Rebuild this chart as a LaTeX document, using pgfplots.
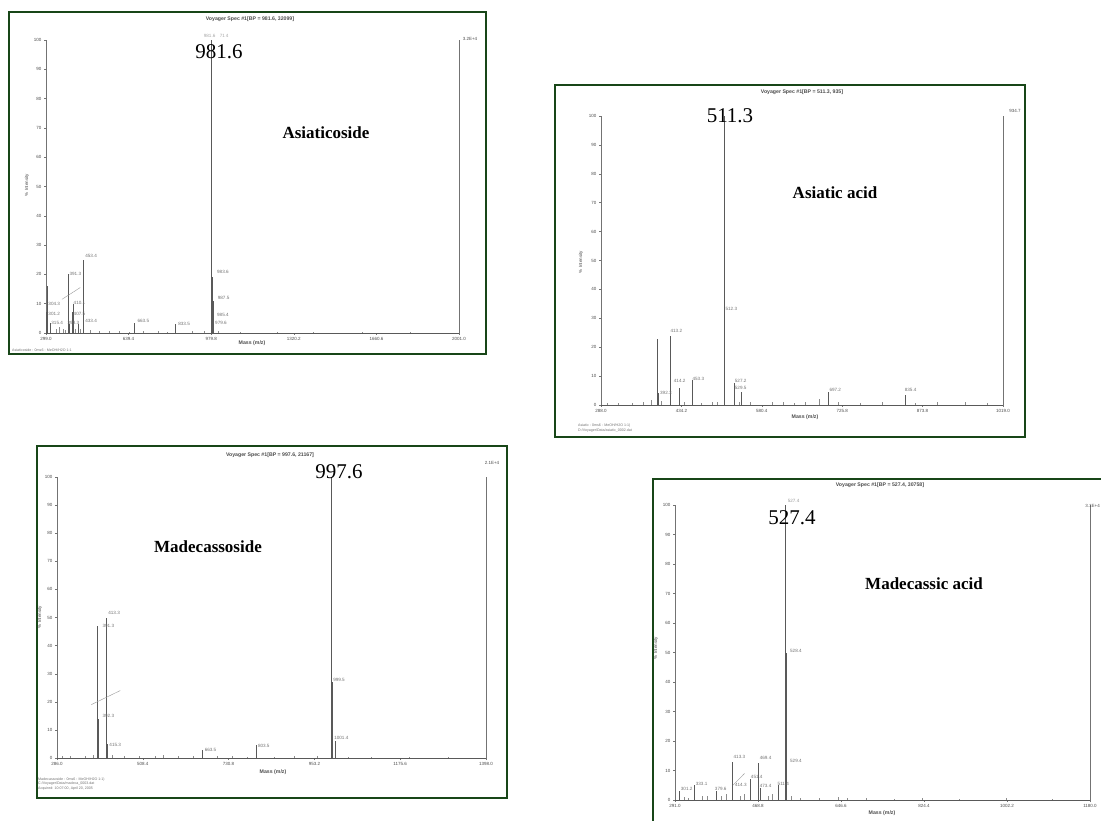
\documentclass[border=0pt]{standalone}
\usepackage{pgfplots}
\pgfplotsset{compat=1.18}
\usepackage{fontspec}
\setmainfont{Liberation Serif}
\newfontfamily\sans{Liberation Sans}
\definecolor{bx}{RGB}{24,70,24}
\newcommand\tickfont{\sans\fontsize{4.5}{5}\selectfont}
\newcommand\lblfont{\sans\fontsize{4.6}{5}\selectfont}
\newcommand\ttlfont{\sans\bfseries\fontsize{5.2}{6}\selectfont}
\newcommand\bigfont{\fontsize{21}{24}\selectfont}
\newcommand\namefont{\bfseries\fontsize{17}{20}\selectfont}
\tikzset{lbl/.style={font=\lblfont, text=black!55, inner sep=0pt},
         info/.style={font=\sans\fontsize{3.6}{4.2}\selectfont, text=black!55, inner sep=0pt, anchor=west, align=left}}
\pgfplotsset{spec/.style={
  scale only axis, anchor=south west, ymin=0, ymax=100,
  axis x line*=bottom, axis y line*=left,
  axis line style={black!55, line width=0.5pt},
  x axis line style={black!65, line width=0.8pt},
  tick style={black!55, line width=0.4pt}, major tick length=2pt, tick align=outside,
  ytick={0,10,...,100},
  ticklabel style={font=\tickfont, text=black!70},
  /pgf/number format/assume math mode=true,
  clip=false,
  xticklabel style={yshift=1pt}, yticklabel style={xshift=1pt}},
  peaks/.style={ycomb, no marks, draw=black!65, line width=0.55pt},
  noise/.style={ycomb, no marks, draw=black!45, line width=0.35pt}}
\newcommand\pl[3]{\node[lbl] at (axis cs:#1,#2) {#3};}
\begin{document}
\begin{tikzpicture}[x=1pt,y=1pt]
\useasboundingbox (0,0) rectangle (1101,820);
\clip (0,0) rectangle (1101,820);
\fill[white] (0,0) rectangle (1101,820);

% ---------------- Panel 1: Asiaticoside ----------------
\draw[bx, line width=1.8pt] (9,466) rectangle (486,808);
\begin{axis}[spec, at={(46pt,487pt)}, width=413pt, height=293pt,
  xmin=299, xmax=2001,
  xtick={299,639.4,979.8,1320.2,1660.6,2001},
  xticklabels={299.0,639.4,979.8,1320.2,1660.6,2001.0}]
\addplot[noise] coordinates {(318,1.5)(340,1.2)(352,2)(368,1.5)(378,1)(420,1.5)(440,1.5)(480,1)(520,0.8)(560,0.6)(600,0.7)(640,0.5)(700,0.8)(760,0.6)(800,0.5)(900,0.6)(950,0.8)(1010,0.6)(1100,0.4)(1250,0.4)(1400,0.4)(1600,0.3)(1800,0.3)};
\addplot[peaks] coordinates {(301.2,7)(305,16)(316,3.5)(391.3,20)(393.3,3)(407.5,7)(410.1,10)(433.4,3)(453.4,25)(663.5,3.5)(833.5,3)(979.6,3)(981.6,100)(983.6,19)(985.4,6)(987.5,11)};
\draw[black!55, line width=0.4pt] (axis cs:2001,0) -- (axis cs:2001,100);
\draw[black!40, line width=0.4pt] (axis cs:365,11.5) -- (axis cs:440,15.5);
\pl{333}{10}{304.3}
\pl{333}{6.6}{301.2}
\pl{345}{3.5}{315.4}
\pl{420}{20.3}{391.3}
\pl{485}{26.2}{453.4}
\pl{437}{10.2}{410.1}
\pl{437}{6.6}{407.5}
\pl{412}{3.4}{393.3}
\pl{485}{4}{433.4}
\pl{700}{4.1}{663.5}
\pl{868}{3.2}{833.5}
\pl{1028}{21}{983.6}
\pl{1031}{12}{987.5}
\pl{1028}{6.3}{985.4}
\pl{1020}{3.4}{979.6}
\node[lbl, text=black!35] at (axis cs:1000,101.5) {981.6\quad 71\,4};
\end{axis}
\node[font=\ttlfont, text=black!70] at (250,801) {Voyager Spec \#1[BP = 981.6, 32099]};
\node[font=\tickfont, text=black!70, rotate=90] at (27,635) {\% Intensity};
\node[font=\ttlfont, text=black!70] at (252,477) {Mass (m/z)};
\node[font=\tickfont, text=black!70] at (470,781) {3.2E+4};
\node[info] at (12,470) {Asiaticoside : 0ms6 : MeOH/H2O 1:1};
\node[font=\bigfont] at (219,768) {981.6};
\node[font=\namefont] at (326,687) {Asiaticoside};

% ---------------- Panel 2: Asiatic acid ----------------
\draw[bx, line width=1.8pt] (555,383) rectangle (1025,735);
\begin{axis}[spec, at={(601pt,415pt)}, width=402pt, height=289pt,
  xmin=288, xmax=1019,
  xtick={288,434.2,580.4,726.6,872.8,1019},
  xticklabels={288.0,434.2,580.4,725.8,873.8,1019.0}]
\addplot[noise] coordinates {(300,0.8)(320,0.6)(345,0.8)(365,1.2)(380,1.8)(398,1.5)(440,1.2)(470,0.8)(490,1)(500,1.2)(540,1)(560,1)(600,1.2)(620,1)(640,0.8)(660,1)(684,2)(720,1.2)(760,0.8)(800,1)(860,0.8)(900,1)(950,1)(990,0.8)};
\addplot[peaks] coordinates {(390.5,23)(392.3,4)(413.2,24)(430,6)(454,8.5)(511.3,100)(513,31)(529.5,7.5)(543,4.6)(701,4.6)(841.6,3.5)};
\draw[black!55, line width=0.4pt] (axis cs:1019,0) -- (axis cs:1019,100);
\pl{425}{25.6}{413.2}
\pl{406}{4.3}{392.3}
\pl{431}{8.3}{414.2}
\pl{465}{8.9}{453.3}
\pl{525}{33.2}{512.3}
\pl{542}{8.4}{527.2}
\pl{542}{5.8}{529.5}
\pl{714}{5.2}{697.2}
\pl{851}{5.2}{835.4}
\end{axis}
\node[font=\ttlfont, text=black!70] at (802,728) {Voyager Spec \#1[BP = 511.3, 935]};
\node[font=\tickfont, text=black!70, rotate=90] at (581,558) {\% Intensity};
\node[font=\ttlfont, text=black!70] at (805,403) {Mass (m/z)};
\node[font=\tickfont, text=black!70] at (1015,709) {934.7};
\node[info] at (578,392) {Asiatic : 0ms6 : MeOH/H2O 1:1)\\D:/Voyager/Data/asiatic\_0002.dat};
\node[font=\bigfont] at (730,704) {511.3};
\node[font=\namefont] at (835,627) {Asiatic acid};

% ---------------- Panel 3: Madecassoside ----------------
\draw[bx, line width=1.8pt] (37,22) rectangle (507,374);
\begin{axis}[spec, at={(57pt,62pt)}, width=429pt, height=281pt,
  xmin=286, xmax=1398,
  xtick={286,508.4,730.8,953.2,1175.6,1398},
  xticklabels={286.0,508.4,730.8,953.2,1175.6,1398.0}]
\addplot[noise] coordinates {(300,0.8)(320,0.6)(360,0.8)(380,1)(430,1.2)(460,0.8)(500,0.8)(540,0.8)(560,1)(600,0.6)(640,0.8)(700,0.6)(740,0.6)(780,0.5)(850,0.5)(900,0.6)(960,0.6)(1040,0.5)(1100,0.5)(1200,0.5)(1300,0.5)};
\addplot[peaks] coordinates {(391.3,47)(392.3,14)(413.3,50)(415.3,5)(663.5,3)(803.5,4.5)(997.6,100)(999.5,27)(1008,6)};
\draw[black!55, line width=0.4pt] (axis cs:1398,0) -- (axis cs:1398,100);
\draw[black!40, line width=0.4pt] (axis cs:375,19) -- (axis cs:450,24);
\pl{434}{51.5}{413.3}
\pl{419}{47.1}{391.3}
\pl{419}{14.8}{392.3}
\pl{437}{4.7}{415.3}
\pl{684}{3}{663.5}
\pl{822}{4.4}{803.5}
\pl{1017}{27.8}{999.5}
\pl{1023}{7.1}{1001.4}
\end{axis}
\node[font=\ttlfont, text=black!70] at (270,365) {Voyager Spec \#1[BP = 997.6, 21167]};
\node[font=\tickfont, text=black!70, rotate=90] at (40,203) {\% Intensity};
\node[font=\ttlfont, text=black!70] at (273,48) {Mass (m/z)};
\node[font=\tickfont, text=black!70] at (492,357) {2.1E+4};
\node[info] at (38,36) {Madecassoside : 0ms6 : MeOH/H2O 1:1)\\C:/Voyager/Data/madeca\_0003.dat\\Acquired: 10:07:00, April 20, 2005};
\node[font=\bigfont] at (339,348) {997.6};
\node[font=\namefont] at (208,273) {Madecassoside};

% ---------------- Panel 4: Madecassic acid ----------------
\draw[bx, line width=1.8pt] (653,-10) rectangle (1115,341);
\begin{axis}[spec, at={(675pt,20pt)}, width=415pt, height=295pt,
  xmin=291, xmax=1180,
  xtick={291,468.8,646.6,824.4,1002.2,1180},
  xticklabels={291.0,468.8,646.6,824.4,1002.2,1180.0}]
\addplot[noise] coordinates {(310,1)(320,0.8)(350,1.2)(360,1.5)(390,1.5)(400,2)(430,1.5)(440,2)(490,1.5)(500,2)(540,1.5)(560,0.8)(600,0.6)(640,1)(660,0.8)(700,0.6)(760,0.5)(820,0.6)(900,0.5)(1000,0.6)(1100,0.5)};
\addplot[peaks] coordinates {(301.2,3)(333.1,5)(379.6,3)(413.3,13)(414.3,4)(451.4,7)(469.4,12.7)(473.4,4)(511.4,5)(527.4,100)(528.4,50)(529.4,13)};
\draw[black!55, line width=0.4pt] (axis cs:1180,0) -- (axis cs:1180,100);
\draw[black!40, line width=0.4pt] (axis cs:415,5) -- (axis cs:440,9);
\pl{316}{3.9}{301.2}
\pl{348}{5.6}{333.1}
\pl{389}{3.7}{379.6}
\pl{429}{14.6}{413.3}
\pl{432}{5.2}{414.3}
\pl{466}{7.8}{451.4}
\pl{485}{14.3}{469.4}
\pl{485}{4.8}{473.4}
\pl{523}{5.4}{511.4}
\pl{550}{50.5}{528.4}
\pl{550}{13.2}{529.4}
\node[lbl, text=black!40] at (axis cs:545,101.5) {527.4};
\end{axis}
\node[font=\ttlfont, text=black!70] at (880,335) {Voyager Spec \#1[BP = 527.4, 30758]};
\node[font=\tickfont, text=black!70, rotate=90] at (656,172) {\% Intensity};
\node[font=\ttlfont, text=black!70] at (882,7) {Mass (m/z)};
\node[font=\tickfont, text=black!70, anchor=east, inner sep=0pt] at (1100,314) {3.1E+4};
\node[font=\bigfont] at (792,302) {527.4};
\node[font=\namefont] at (924,236) {Madecassic acid};
\end{tikzpicture}
\end{document}
